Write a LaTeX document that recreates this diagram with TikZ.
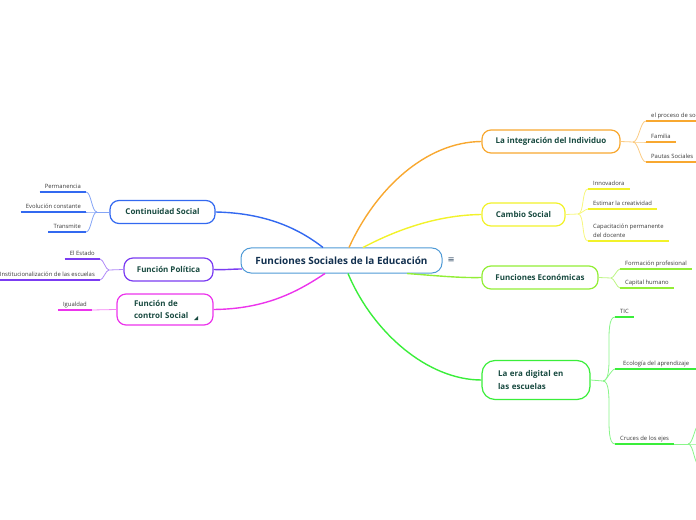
\documentclass[tikz,border=0pt]{standalone}
\usepackage{fontspec}
\setmainfont{Open Sans}
\newfontfamily\symfont{DejaVu Sans}
\usetikzlibrary{positioning}

\definecolor{chub}{HTML}{4F9AD6}
\definecolor{cblue}{HTML}{3369F0}
\definecolor{cpurple}{HTML}{7B3CF2}
\definecolor{cmag}{HTML}{EC34EC}
\definecolor{corange}{HTML}{F8A830}
\definecolor{cyellow}{HTML}{F2F22A}
\definecolor{cygreen}{HTML}{92EE36}
\definecolor{cgreen}{HTML}{3AEE3A}
\definecolor{ctxthub}{HTML}{12304F}
\definecolor{ctxt}{HTML}{184A40}
\definecolor{ctxtleaf}{HTML}{3A3A3A}

\begin{document}
\begin{tikzpicture}[
  x=1bp,y=-1bp,
  hub/.style={draw=chub,line width=1bp,fill=white,rounded corners=10bp,
    minimum width=201bp,minimum height=25bp,
    font=\fontsize{10}{11}\selectfont\bfseries,text=ctxthub},
  topic/.style={draw=#1,line width=1.2bp,fill=white,rounded corners=9bp,
    minimum height=23bp,font=\fontsize{8}{12.5}\selectfont\bfseries,text=ctxt},
  leaf/.style={font=\fontsize{5.9}{9}\selectfont,text=ctxtleaf,
    inner xsep=5bp,inner ysep=2bp,text height=4.3bp,text depth=1.4bp,
    append after command={(\tikzlastnode.south west)
      edge[draw=#1,line width=1.6bp] (\tikzlastnode.south east)}},
  link/.style={draw=#1,line width=1.4bp},
  twig/.style={draw=#1!60,line width=0.8bp}
]
  \useasboundingbox (0,0) rectangle (696,520);
  \clip (0,0) rectangle (696,520);

  \node[hub] (hub) at (341.5,260.5) {Funciones Sociales de la Educación};
  \node[right=4bp of hub,inner sep=1bp,text=ctxthub!85,
    font=\symfont\fontsize{8.5}{8.5}\selectfont] (menu) {≡};

  \node[topic=cblue,minimum width=105bp] (cont) at (162.5,212) {Continuidad Social};
  \node[topic=cpurple,minimum width=89bp] (pol) at (168.5,269.5) {Función Política};
  \node[topic=cmag,minimum width=96bp,minimum height=31bp,text width=62bp,
    align=left] (ctrl) at (165,309.5) {Función de\\control Social};
  \fill[ctxt] (194,320) -- (198,320) -- (198,316) -- cycle;

  \node[topic=corange,minimum width=138bp] (integ) at (551,141.5) {La integración del Individuo};
  \node[topic=cyellow,minimum width=83bp] (cambio) at (523.5,214.5) {Cambio Social};
  \node[topic=cygreen,minimum width=116bp] (econ) at (540,277.5) {Funciones Económicas};
  \node[topic=cgreen,minimum width=108bp,minimum height=39bp,rounded corners=13bp,
    text width=76bp,align=left] (digital) at (536,380) {La era digital en\\las escuelas};

  \draw[link=cblue] (cont.east) .. controls (265,213) and (298,228) .. ([xshift=-18.5bp]hub.north);
  \draw[link=cpurple] (pol.east) .. controls (225,270) and (232,269) .. ([xshift=1.5bp,yshift=-8.5bp]hub.west);
  \draw[link=cmag] (ctrl.east) .. controls (268,309) and (300,290) .. ([xshift=-16.5bp]hub.south);
  \draw[link=corange] ([xshift=7.5bp]hub.north) .. controls (375,190) and (425,142) .. (integ.west);
  \draw[link=cyellow] ([xshift=21.5bp]hub.north) .. controls (400,228) and (440,215) .. (cambio.west);
  \draw[link=cygreen] ([xshift=65.5bp]hub.south) .. controls (440,276) and (460,278) .. (econ.west);
  \draw[link=cgreen] ([xshift=6.5bp]hub.south) .. controls (373,333) and (428,380) .. (digital.west);

  \coordinate (jcont) at (97,212);
  \coordinate (jpol) at (109,270);
  \coordinate (jinteg) at (633,142);
  \coordinate (jcambio) at (578,214);
  \coordinate (jecon) at (611,278);
  \coordinate (jdig) at (603,381);
  \coordinate (jcruces) at (688,444);
  \coordinate (cup) at (700,424);
  \coordinate (cmid) at (700,444);
  \coordinate (cdown) at (700,466);

  \node[leaf=cblue,anchor=south east] (perm) at (86,192) {Permanencia};
  \node[leaf=cblue,anchor=south east] (evol) at (86,212) {Evolución constante};
  \node[leaf=cblue,anchor=south east] (trans) at (86,232) {Transmite};
  \node[leaf=cpurple,anchor=south east] (estado) at (100,259) {El Estado};
  \node[leaf=cpurple,anchor=south east] (instit) at (100,280) {Institucionalización de las escuelas};
  \node[leaf=cmag,anchor=south east] (igual) at (92,310) {Igualdad};

  \node[leaf=corange,anchor=south west,minimum width=70bp] (proc) at (646,121) {el proceso de socialización};
  \node[leaf=corange,anchor=south west] (fam) at (646,142) {Familia};
  \node[leaf=corange,anchor=south west] (pautas) at (646,162) {Pautas Sociales};
  \node[leaf=cyellow,anchor=south west] (innov) at (588,189) {Innovadora};
  \node[leaf=cyellow,anchor=south west] (estim) at (588,209) {Estimar la creatividad};
  \node[leaf=cyellow,anchor=south west,align=left,text height=13.3bp] (capac) at (588,241)
    {Capacitación permanente\\del docente};
  \node[leaf=cygreen,anchor=south west] (form) at (620,269) {Formación profesional};
  \node[leaf=cygreen,anchor=south west] (capital) at (620,288) {Capital humano};
  \node[leaf=cgreen,anchor=south west] (tic) at (615,317) {TIC};
  \node[leaf=cgreen,anchor=south west,minimum width=82bp] (ecol) at (615,369) {Ecología del aprendizaje};
  \node[leaf=cgreen,anchor=south west] (cruces) at (615,444) {Cruces de los ejes};

  \draw[twig=cblue] (cont.west) -- (jcont);
  \foreach \n in {perm,evol,trans}
    \draw[twig=cblue] (jcont) to[out=180,in=0,looseness=.6] (\n.south east);
  \draw[twig=cpurple] (pol.west) -- (jpol);
  \foreach \n in {estado,instit}
    \draw[twig=cpurple] (jpol) to[out=180,in=0,looseness=.6] (\n.south east);
  \draw[twig=cmag] (ctrl.west) -- (igual.south east);

  \draw[twig=corange] (integ.east) -- (jinteg);
  \foreach \n in {proc,fam,pautas}
    \draw[twig=corange] (jinteg) to[out=0,in=180,looseness=.6] (\n.south west);
  \draw[twig=cyellow] (cambio.east) -- (jcambio);
  \foreach \n in {innov,estim,capac}
    \draw[twig=cyellow] (jcambio) to[out=0,in=180,looseness=.6] (\n.south west);
  \draw[twig=cygreen] (econ.east) -- (jecon);
  \foreach \n in {form,capital}
    \draw[twig=cygreen] (jecon) to[out=0,in=180,looseness=.6] (\n.south west);
  \draw[twig=cgreen] (digital.east) -- (jdig);
  \foreach \n in {tic,ecol,cruces}
    \draw[twig=cgreen] (jdig) to[out=0,in=180,looseness=.5] (\n.south west);
  \draw[twig=cgreen] (cruces.south east) -- (jcruces);
  \foreach \n in {cup,cmid,cdown}
    \draw[twig=cgreen] (jcruces) to[out=0,in=180,looseness=.6] (\n);
\end{tikzpicture}
\end{document}
